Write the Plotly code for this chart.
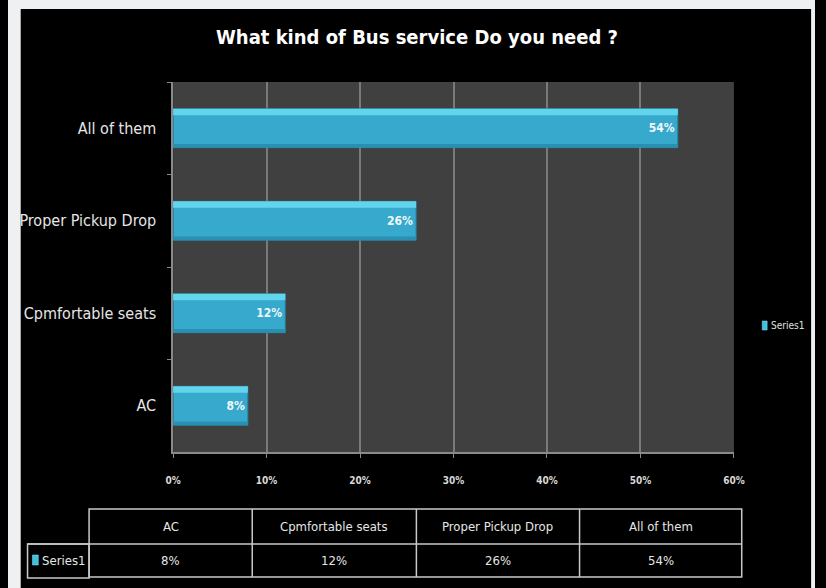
import plotly.graph_objects as go

categories = ["AC", "Cpmfortable seats", "Proper Pickup Drop", "All of them"]
values = [0.08, 0.12, 0.26, 0.54]
series_name = "Series1"
x_ticks = [0, 0.1, 0.2, 0.3, 0.4, 0.5, 0.6]
title_text = "What kind of Bus service Do you need ?"

W, H = 826, 588
def px(x):
    return x / W
def py(y):
    return 1 - y / H

FONT = "DejaVu Sans Condensed, sans-serif"
BAR_W = 0.42

fig = go.Figure()
fig.add_trace(go.Bar(
    x=values, y=categories, orientation="h", name=series_name,
    width=BAR_W, showlegend=False,
    marker=dict(color="#36a9cc", line=dict(color="#1f7f9c", width=1)),
    text=[f"{v*100:.0f}%" for v in values],
    textposition="inside", insidetextanchor="end",
    textfont=dict(family=FONT, size=12, color="#eef8fb", weight="bold"),
    cliponaxis=False,
))

shapes = []
LIGHT = "#eff0f2"
# light frame strips around the black panel
for x0, x1, y0, y1 in [(0, 13, 0, H), (0, W, 0, 9), (822, W, 0, H)]:
    shapes.append(dict(type="rect", xref="paper", yref="paper", layer="below",
                       x0=px(x0), x1=px(x1), y0=py(y1), y1=py(y0),
                       fillcolor=LIGHT, line=dict(width=0)))
# bar highlight strips (3D look)
for i, v in enumerate(values):
    shapes.append(dict(type="rect", xref="x", yref="y", layer="above",
                       x0=0, x1=v, y0=i + BAR_W / 2 - 0.07, y1=i + BAR_W / 2,
                       fillcolor="#62d4ec", line=dict(width=0)))
    shapes.append(dict(type="rect", xref="x", yref="y", layer="above",
                       x0=0, x1=v, y0=i - BAR_W / 2, y1=i - BAR_W / 2 + 0.04,
                       fillcolor="#2a8fb0", line=dict(width=0)))

# data table
line_c = "#c9c9c9"
col_edges = [83, 250, 418, 585, 751]
top, mid, bot = 509, 544, 577
tl = dict(color=line_c, width=1.5)
shapes.append(dict(type="rect", xref="paper", yref="paper",
                   x0=px(col_edges[0]), x1=px(col_edges[-1]), y0=py(bot), y1=py(top), line=tl))
shapes.append(dict(type="line", xref="paper", yref="paper",
                   x0=px(20), x1=px(col_edges[-1]), y0=py(mid), y1=py(mid), line=tl))
shapes.append(dict(type="rect", xref="paper", yref="paper",
                   x0=px(20), x1=px(col_edges[0]), y0=py(bot + 1), y1=py(mid), line=tl))
for xe in col_edges[1:-1]:
    shapes.append(dict(type="line", xref="paper", yref="paper",
                       x0=px(xe), x1=px(xe), y0=py(bot), y1=py(top), line=tl))
# legend key in table
shapes.append(dict(type="rect", xref="paper", yref="paper",
                   x0=px(25), x1=px(31), y0=py(565), y1=py(555),
                   fillcolor="#3fc0e0", line=dict(color="#8ae6f7", width=0.5)))
# side legend key
shapes.append(dict(type="rect", xref="paper", yref="paper",
                   x0=px(772), x1=px(777), y0=py(330), y1=py(321),
                   fillcolor="#3fc0e0", line=dict(color="#8ae6f7", width=0.5)))

annotations = []
tfont = dict(family=FONT, size=13, color="#e6e6e6")
for j, (c, v) in enumerate(zip(categories, values)):
    xc = (col_edges[j] + col_edges[j + 1]) / 2
    annotations.append(dict(xref="paper", yref="paper", x=px(xc), y=py((top + mid) / 2),
                            text=c, showarrow=False, font=tfont,
                            xanchor="center", yanchor="middle"))
    annotations.append(dict(xref="paper", yref="paper", x=px(xc), y=py((mid + bot) / 2),
                            text=f"{v*100:.0f}%", showarrow=False, font=tfont,
                            xanchor="center", yanchor="middle"))
annotations.append(dict(xref="paper", yref="paper", x=px(33), y=py(560),
                        text=series_name, showarrow=False, font=tfont,
                        xanchor="left", yanchor="middle"))
annotations.append(dict(xref="paper", yref="paper", x=px(779), y=py(326),
                        text=series_name, showarrow=False,
                        font=dict(family=FONT, size=10, color="#e0e0e0"),
                        xanchor="left", yanchor="middle"))

fig.update_layout(
    width=W, height=H,
    margin=dict(l=0, r=0, t=0, b=0),
    paper_bgcolor="#000000",
    plot_bgcolor="#404040",
    title=dict(text=title_text, x=px(417), xanchor="center", y=py(37), yanchor="middle",
               font=dict(family=FONT, size=20, color="#ffffff", weight="bold")),
    xaxis=dict(domain=[px(169), px(743)], range=[0, 0.6], tickvals=x_ticks,
               tickformat=".0%", showgrid=True, gridcolor="#7a7a7a", gridwidth=1.5,
               showline=True, linecolor="#8a8a8a", linewidth=1.5,
               ticks="outside", ticklen=4, tickcolor="#8a8a8a",
               ticklabelstandoff=14, zeroline=False,
               tickfont=dict(family=FONT, size=10, color="#d8d8d8", weight="bold")),
    yaxis=dict(domain=[py(452), py(82)], showgrid=False,
               showline=True, linecolor="#8a8a8a", linewidth=1.5,
               ticks="outside", ticklen=4, tickcolor="#8a8a8a", tickson="boundaries",
               ticklabelstandoff=12,
               tickfont=dict(family=FONT, size=16, color="#e6e6e6")),
    showlegend=False,
    shapes=shapes,
    annotations=annotations,
)

fig.write_html("out.html")
